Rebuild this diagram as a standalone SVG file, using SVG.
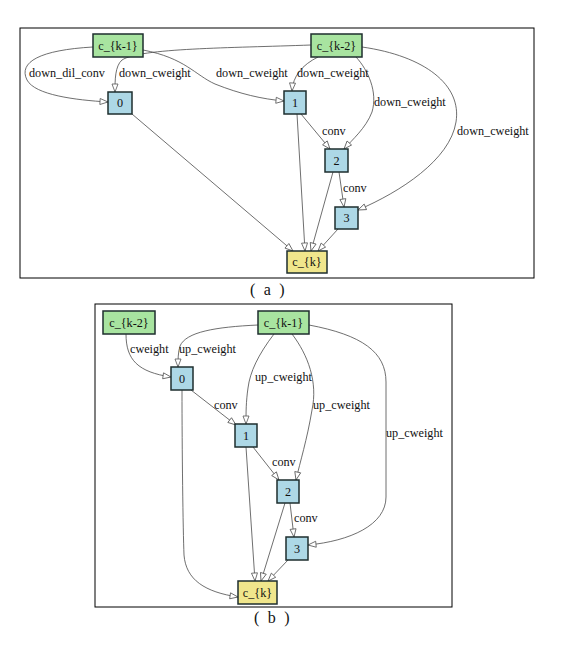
<svg xmlns="http://www.w3.org/2000/svg" width="571" height="647" viewBox="0 0 571 647">
<style>
.frame{fill:none;stroke:#000;stroke-width:1}
.edge{fill:none;stroke:#4a4a4a;stroke-width:0.8;marker-end:url(#arr)}
.n rect{stroke:#1e2e2e;stroke-width:1.5}
.g rect{fill:#a8e4a0}
.b rect{fill:#add8e6}
.y rect{fill:#f0e68c}
text{font-family:"Liberation Serif","Times New Roman",serif;font-size:12.2px;fill:#111}
.n text{text-anchor:middle}
.cap{font-size:16px;letter-spacing:2.2px}
</style>
<defs>
<marker id="arr" markerUnits="userSpaceOnUse" markerWidth="10" markerHeight="8" refX="8" refY="3" orient="auto" viewBox="-1 -1 10 8">
<path d="M0,0 L8,3 L0,6 Z" fill="#fff" stroke="#555" stroke-width="0.8"/>
</marker>
</defs>
<rect width="571" height="647" fill="#fff"/>
<rect class="frame" x="20" y="28" width="514" height="250"/>
<rect class="frame" x="95" y="304" width="357" height="303"/>
<text class="cap" x="250" y="295" xml:space="preserve">( a )</text>
<text class="cap" x="254" y="623" xml:space="preserve">( b )</text>

<g id="connectors">
<path class="edge" d="M93,47 C40,50 18,62 27,80 C35,95 75,100 108,102"/>
<path class="edge" d="M311,45 C230,48 140,48 122,60 C115,66 115,80 115,92"/>
<path class="edge" d="M143,50 C185,58 195,75 215,84 C240,94 262,99 284,101"/>
<path class="edge" d="M318,57 C302,65 293,76 292,91"/>
<path class="edge" d="M356,57 C368,70 378,92 372,112 C366,128 352,140 344,149"/>
<path class="edge" d="M362,47 C425,56 462,85 456,122 C450,160 400,192 358,210"/>
<path class="edge" d="M132,114 L293,251"/>
<path class="edge" d="M301,114 L330,149"/>
<path class="edge" d="M297,114 L305,251"/>
<path class="edge" d="M333,172 L311,251"/>
<path class="edge" d="M339,172 L344,207"/>
<path class="edge" d="M338,229 L318,251"/>

<path class="edge" d="M126,334 C126,360 138,372 171,377"/>
<path class="edge" d="M258,325 C215,327 186,332 180,346 C178,352 178,360 178,367"/>
<path class="edge" d="M274,334 C258,355 250,372 248,388 C246,402 246,412 246,424"/>
<path class="edge" d="M292,334 C308,355 318,382 312,410 C307,440 300,462 296,480"/>
<path class="edge" d="M309,325 C362,335 386,352 386,382 L386,497 C386,525 350,541 308,545"/>
<path class="edge" d="M191,390 L236,425"/>
<path class="edge" d="M182,390 C182,450 183,530 184,555 C186,580 205,592 238,597"/>
<path class="edge" d="M253,447 L279,480"/>
<path class="edge" d="M246,447 L255,581"/>
<path class="edge" d="M285,503 L261,581"/>
<path class="edge" d="M290,503 L294,537"/>
<path class="edge" d="M288,560 L268,581"/>

<text x="29" y="77">down_dil_conv</text>
<text x="119" y="77">down_cweight</text>
<text x="216" y="77">down_cweight</text>
<text x="297" y="77">down_cweight</text>
<text x="374" y="106">down_cweight</text>
<text x="457" y="135">down_cweight</text>
<text x="322" y="135">conv</text>
<text x="343" y="192">conv</text>

<text x="130" y="353">cweight</text>
<text x="179" y="353">up_cweight</text>
<text x="255" y="381">up_cweight</text>
<text x="313" y="409">up_cweight</text>
<text x="386" y="437">up_cweight</text>
<text x="214" y="409">conv</text>
<text x="272" y="466">conv</text>
<text x="294" y="522">conv</text>
</g>

<g id="a_ck1" class="n g"><rect x="93" y="34" width="50" height="23"/><text x="118" y="49.5">c_{k-1}</text></g>
<g id="a_ck2" class="n g"><rect x="311" y="34" width="51" height="23"/><text x="336.5" y="49.5">c_{k-2}</text></g>
<g id="a_n0" class="n b"><rect x="108" y="92" width="24" height="22"/><text x="120" y="107">0</text></g>
<g id="a_n1" class="n b"><rect x="284" y="91" width="22" height="23"/><text x="295" y="106.5">1</text></g>
<g id="a_n2" class="n b"><rect x="325" y="149" width="23" height="23"/><text x="336.5" y="164.5">2</text></g>
<g id="a_n3" class="n b"><rect x="335" y="207" width="23" height="22"/><text x="346.5" y="222">3</text></g>
<g id="a_ck" class="n y"><rect x="287" y="251" width="40" height="22"/><text x="307" y="266">c_{k}</text></g>

<g id="b_ck2" class="n g"><rect x="103" y="311" width="52" height="23"/><text x="129" y="326.5">c_{k-2}</text></g>
<g id="b_ck1" class="n g"><rect x="258" y="311" width="51" height="23"/><text x="283.5" y="326.5">c_{k-1}</text></g>
<g id="b_n0" class="n b"><rect x="171" y="367" width="22" height="23"/><text x="182" y="382.5">0</text></g>
<g id="b_n1" class="n b"><rect x="235" y="424" width="22" height="23"/><text x="246" y="439.5">1</text></g>
<g id="b_n2" class="n b"><rect x="277" y="480" width="22" height="23"/><text x="288" y="495.5">2</text></g>
<g id="b_n3" class="n b"><rect x="286" y="537" width="22" height="23"/><text x="297" y="552.5">3</text></g>
<g id="b_ck" class="n y"><rect x="238" y="581" width="39" height="23"/><text x="257.5" y="596.5">c_{k}</text></g>
</svg>
